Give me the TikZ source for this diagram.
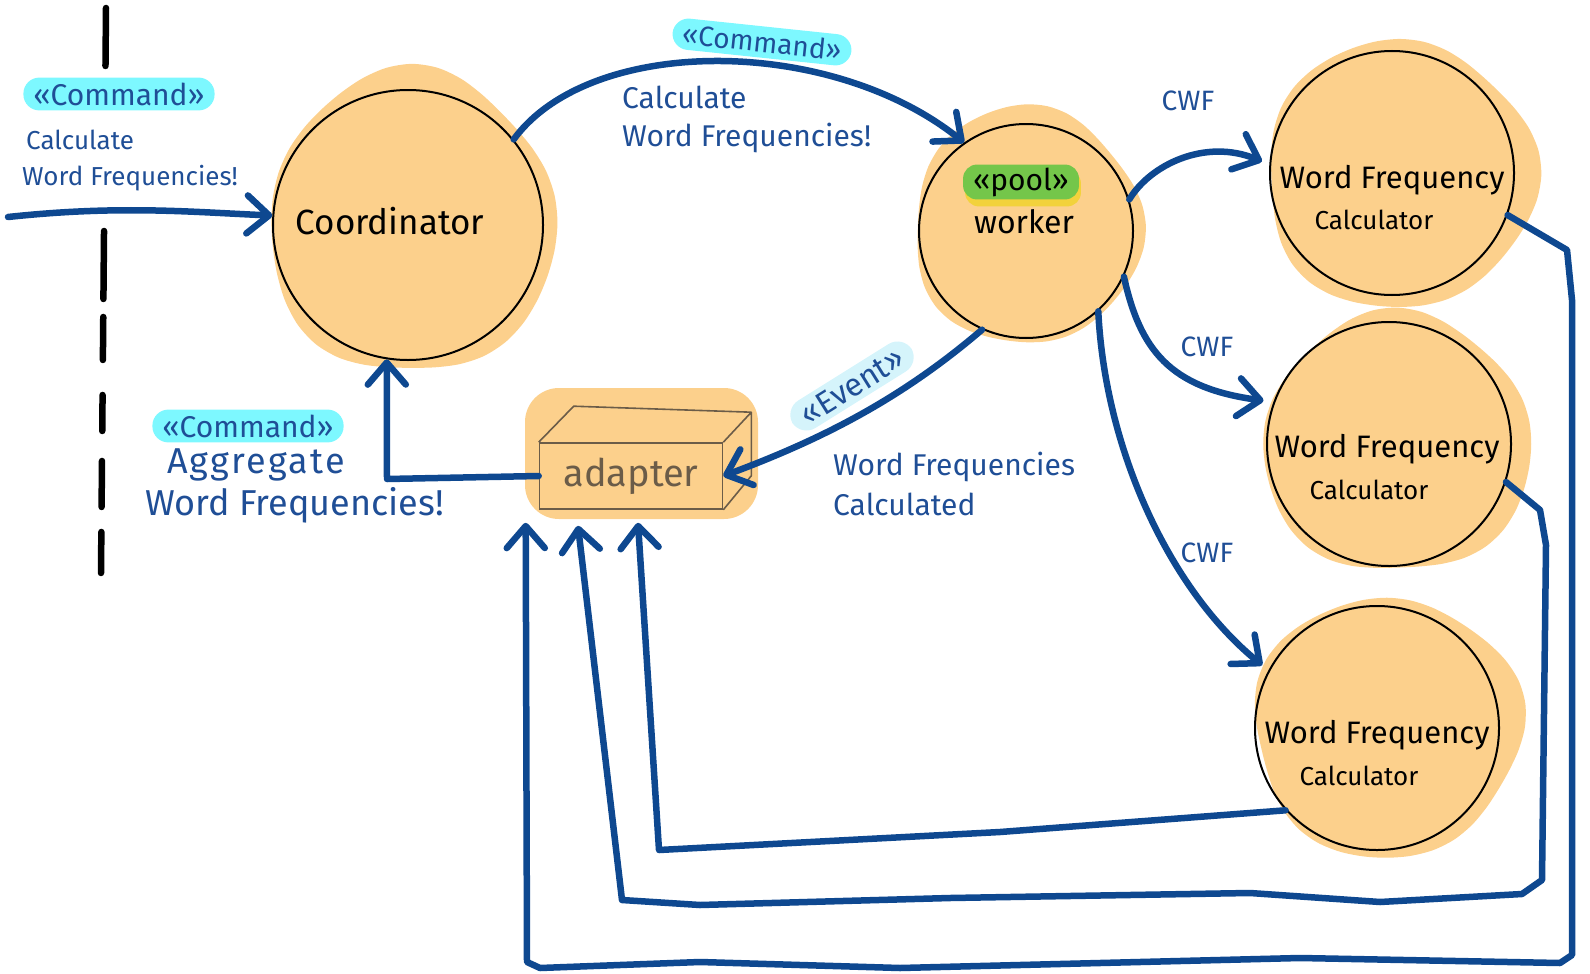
\documentclass[tikz,border=0pt]{standalone}
\usepackage{fontspec}
\setmainfont{Fira Sans}
\usetikzlibrary{arrows.meta,calc}

\definecolor{ink}{HTML}{0E4890}
\definecolor{pen}{HTML}{1F4E96}
\definecolor{peach}{HTML}{FCD08C}
\definecolor{hlcyan}{HTML}{7DF8FF}
\definecolor{hlpale}{HTML}{D5F4FB}
\definecolor{hlgreen}{HTML}{74C64A}
\definecolor{hlyellow}{HTML}{F2D23C}
\definecolor{boxpen}{HTML}{6B5C48}

% soft irregular patch behind a node: centre x, centre y, radius x, radius y, two phases
\newcommand\peachblob[6]{%
  \fill[peach] plot[smooth cycle,domain=0:350,samples=36]
    ({#1+#3*(1+0.03*sin(3*\x+#5)+0.02*cos(5*\x+#6))*cos(\x)},
     {#2+#4*(1+0.03*sin(3*\x+#5)+0.02*cos(5*\x+#6))*sin(\x)});}

\begin{document}
\begin{tikzpicture}[x=1pt,y=-1pt,
  flow/.style={draw=ink,line width=6.5pt,line cap=round,line join=round,
    -{Straight Barb[length=22pt,width=38pt,round]}},
  ring/.style={circle,draw=black,line width=2pt,minimum size=#1,inner sep=0pt},
  hand/.style={inner sep=0pt,text=pen,align=left},
  nodetext/.style={inner sep=0pt,text=black},
  tag/.style={fill=hlcyan,rounded corners=16pt,inner xsep=10pt,inner ysep=5pt,text=pen},
]
\useasboundingbox (0,0) rectangle (1590,974);

% system boundary
\draw[black,line width=6.5pt,line cap=round,
  dash pattern=on 58pt off 165pt on 68pt off 18pt on 43pt off 35pt on 36pt off 30pt on 46pt off 25pt on 41pt off 200pt]
  (106,8) -- (101,573);

% patches
\peachblob{412}{223}{143}{152}{20}{70}
\peachblob{1027}{226}{114}{119}{50}{10}
\peachblob{1400}{175}{135}{134}{80}{30}
\peachblob{1397}{444}{134}{130}{10}{100}
\peachblob{1387}{727}{134}{130}{140}{60}
\fill[peach,rounded corners=34pt] (525,388) rectangle (758,519);

% actors
\node[ring=270pt] (coord) at (408,225) {};
\node[ring=214pt] (worker) at (1026,231) {};
\node[ring=244pt] (w1) at (1392,173) {};
\node[ring=244pt] (w2) at (1389,444) {};
\node[ring=244pt] (w3) at (1377,728) {};

\node[nodetext,font=\fontsize{35}{40}\selectfont] (coordlbl) at (390,221) {Coordinator};

\node[fill=hlyellow,rounded corners=14pt,inner xsep=10pt,inner ysep=4pt,
  font=\fontsize{30}{36}\selectfont] (poolbg) at (1023,188) {\phantom{«pool»}};
\node[fill=hlgreen,rounded corners=14pt,inner xsep=10pt,inner ysep=3pt,text=black,
  font=\fontsize{30}{36}\selectfont] (pool) at (1021,182) {«pool»};
\node[nodetext,font=\fontsize{32}{38}\selectfont] (workerlbl) at (1024,222) {worker};

\node[nodetext,font=\fontsize{31}{36}\selectfont] (w1a) at (1392,180) {Word Frequency};
\node[nodetext,font=\fontsize{26}{30}\selectfont] (w1b) at (1374,220) {Calculator};
\node[nodetext,font=\fontsize{31}{36}\selectfont] (w2a) at (1387,449) {Word Frequency};
\node[nodetext,font=\fontsize{26}{30}\selectfont] (w2b) at (1369,490) {Calculator};
\node[nodetext,font=\fontsize{31}{36}\selectfont] (w3a) at (1377,735) {Word Frequency};
\node[nodetext,font=\fontsize{26}{30}\selectfont] (w3b) at (1359,776) {Calculator};

% adapter box
\node[draw=boxpen,line width=1.6pt,minimum width=183pt,minimum height=66pt,inner sep=0pt,
  text=boxpen,font=\fontsize{38}{42}\selectfont] (adapter) at (631,476) {adapter};
\coordinate (backTL) at ($(adapter.north west)+(35,-36)$);
\coordinate (backTR) at ($(adapter.north east)+(28,-30)$);
\coordinate (backBR) at ($(adapter.south east)+(28,-34)$);
\draw[boxpen,line width=1.6pt,line join=round]
  (adapter.north west) -- (backTL) -- (backTR) -- (backBR) -- (adapter.south east)
  (adapter.north east) -- (backTR);

% labels
\node[tag,font=\fontsize{30}{36}\selectfont] (cmdin) at (119,94) {«Command»};
\node[hand,anchor=north west,font=\fontsize{26}{36}\selectfont] (calcin) at (22,130)
  {\hspace*{4pt}Calculate\\Word Frequencies!};

\node[tag,rotate=-6,font=\fontsize{28}{34}\selectfont] (cmdmid) at (762,42) {«Command»};
\node[hand,anchor=north west,font=\fontsize{30}{38}\selectfont] (calcmid) at (622,86)
  {Calculate\\Word Frequencies!};

\node[tag,font=\fontsize{30}{36}\selectfont] (cmdagg) at (248,426) {«Command»};
\node[hand,anchor=north west,font=\fontsize{36}{42}\selectfont] (aggl) at (145,448)
  {\hspace*{22pt}\addfontfeature{LetterSpace=6}Aggregate\\Word Frequencies!};

\node[fill=hlpale,rounded corners=17pt,inner xsep=12pt,inner ysep=5pt,text=pen,rotate=32,
  font=\fontsize{32}{38}\selectfont] (evt) at (852,386) {«Event»};
\node[hand,anchor=north west,font=\fontsize{30}{40}\selectfont] (evtl) at (833,452)
  {Word Frequencies\\Calculated};

\node[hand,font=\fontsize{28}{32}\selectfont] (cwf1) at (1188,101) {CWF};
\node[hand,font=\fontsize{28}{32}\selectfont] (cwf2) at (1207,347) {CWF};
\node[hand,font=\fontsize{28}{32}\selectfont] (cwf3) at (1207,553) {CWF};

% connectors
\coordinate (src) at (8,217);
\draw[flow] (src) .. controls (120,205) and (190,212) .. (coord.176);
\draw[flow] (coord.39) .. controls (590,35) and (830,35) .. (worker.125);
\draw[flow] (worker.246) .. controls (900,400) and (820,440) .. (adapter.east);
\coordinate (bendA) at (387,479);
\draw[flow] (adapter.west) -- (bendA) -- (coord.261);

\draw[flow,shorten >=8pt] (worker.17) .. controls (1150,165) and (1205,138) .. (w1.176);
\draw[flow,shorten >=10pt] (worker.-25) .. controls (1140,350) and (1170,388) .. (w2.160);
\draw[flow,shorten >=8pt] (worker.-48) .. controls (1105,450) and (1170,590) .. (w3.152);

\coordinate (tipA) at ($(adapter.south)+(7,13)$);
\coordinate (tipB) at ($(adapter.south)+(-53,16)$);
\coordinate (tipC) at ($(adapter.south west)+(-13,13)$);

\draw[flow] (w3.222) -- (1000,832) -- (659,850) -- (tipA);
\draw[flow] (w2.-18) -- (1540,510) -- (1546,545) -- (1542,880) -- (1522,894)
  -- (1380,902) -- (1250,893) -- (950,898) -- (700,905) -- (622,900) -- (tipB);
\draw[flow] (w1.-20) -- (1567,250) -- (1572,300) -- (1572,955) -- (1560,963)
  -- (1300,958) -- (900,968) -- (700,962) -- (540,968) -- (527,962) -- (tipC);
\end{tikzpicture}
\end{document}
